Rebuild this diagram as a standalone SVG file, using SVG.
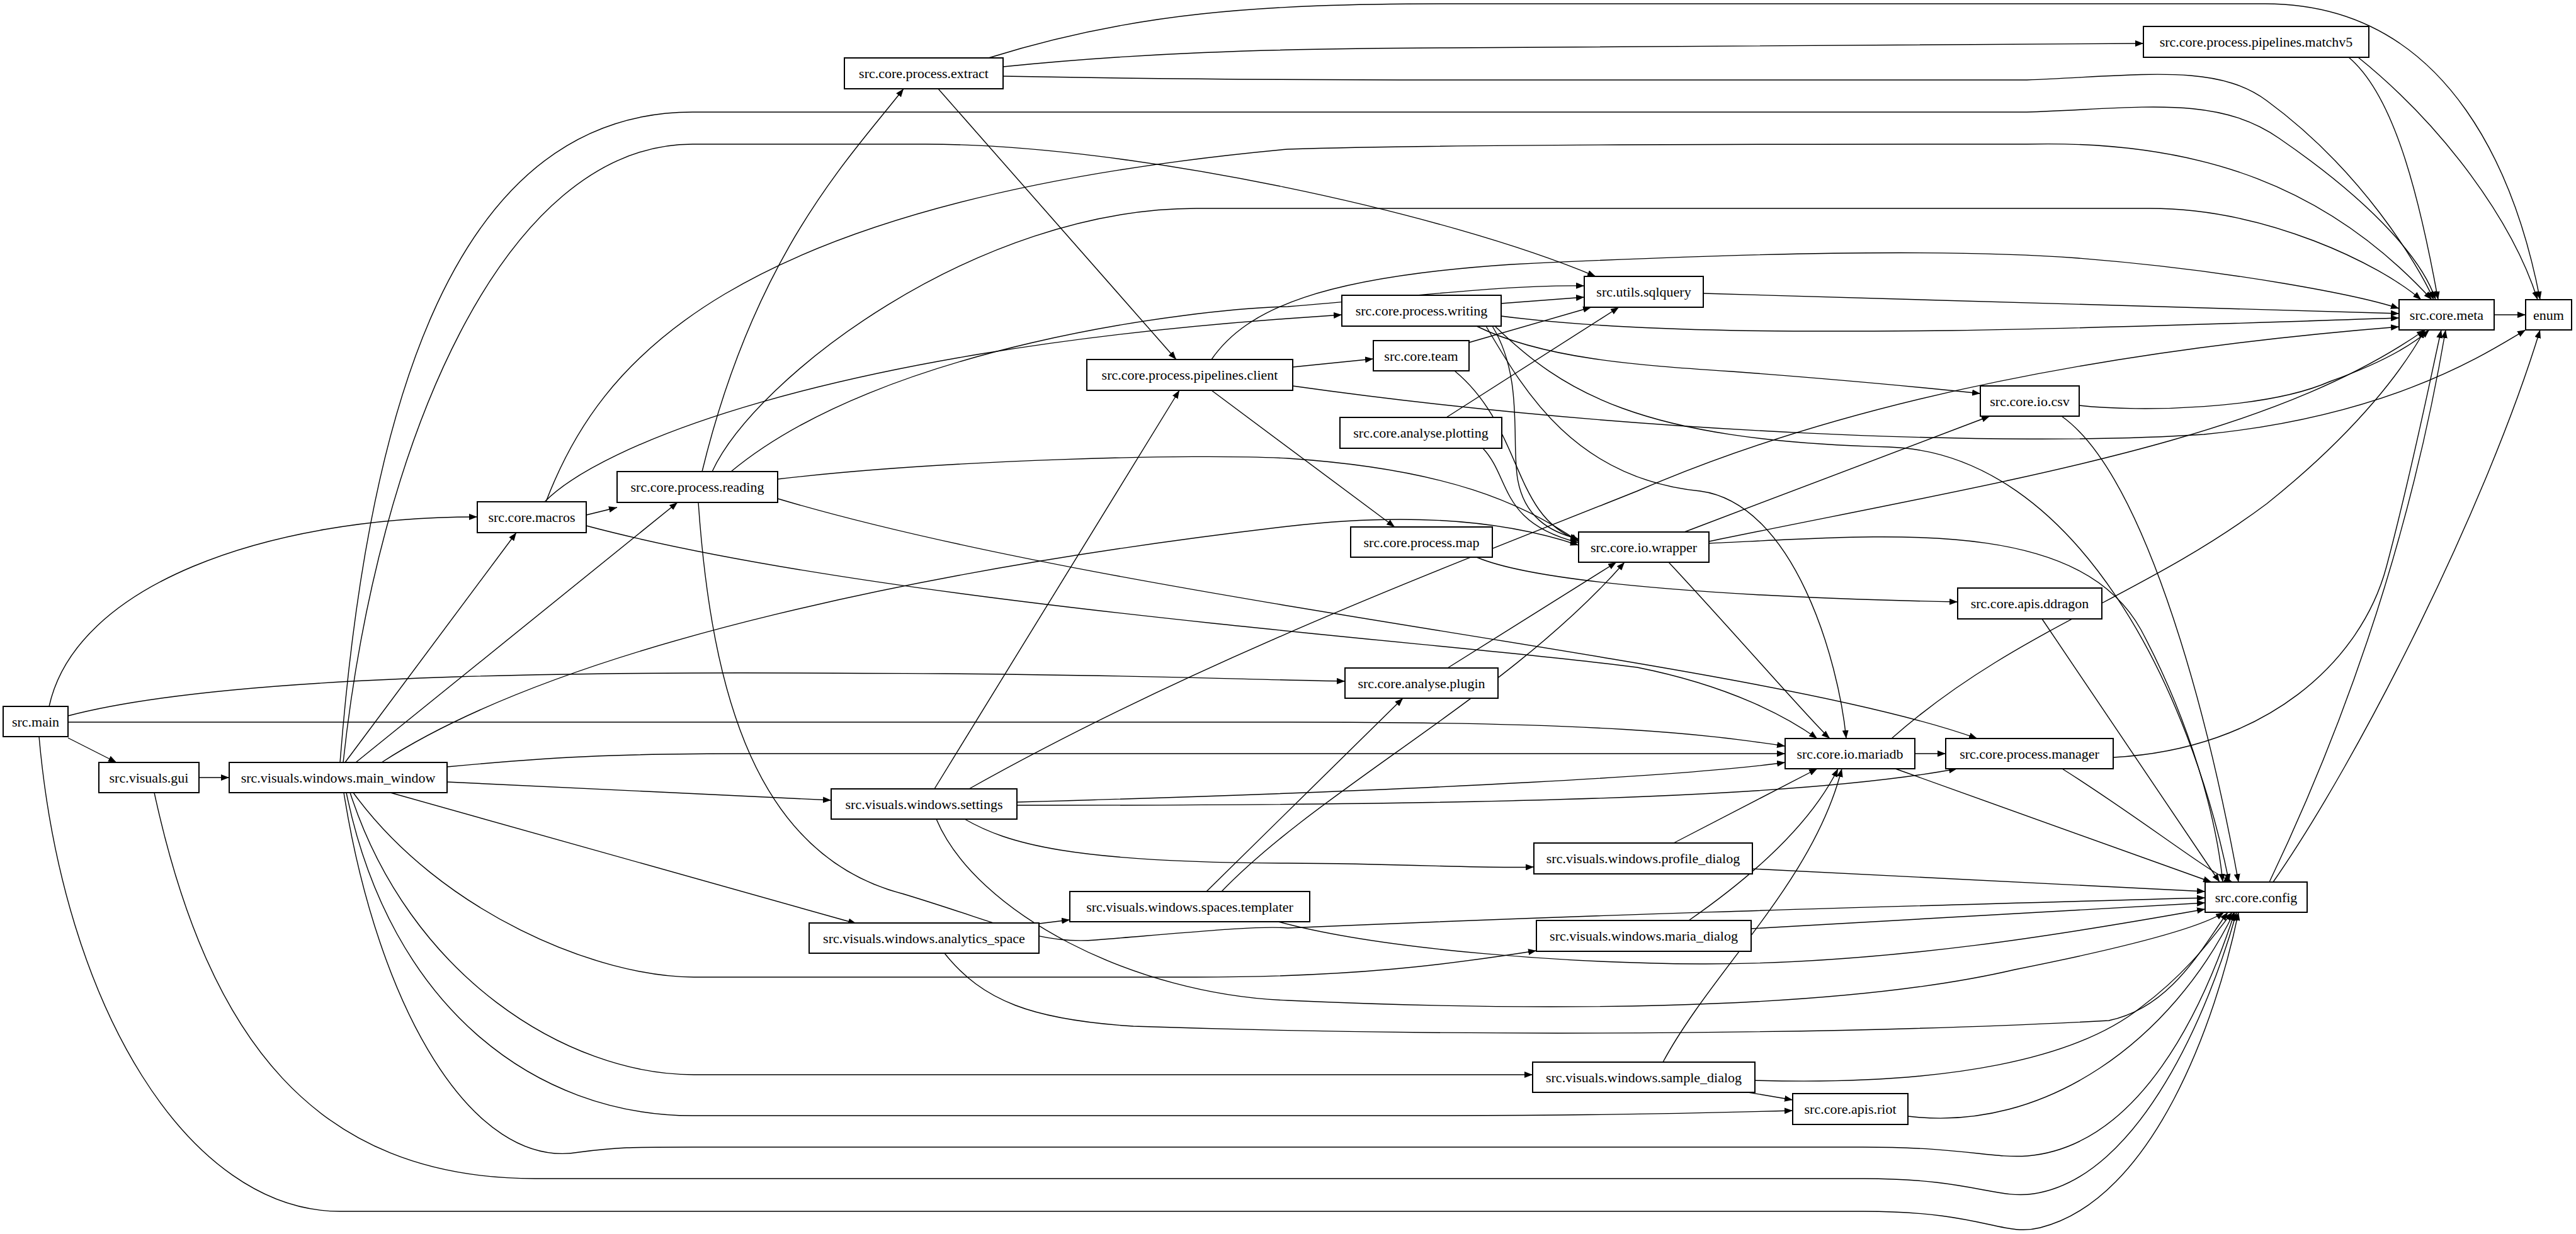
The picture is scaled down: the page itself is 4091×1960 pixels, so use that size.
<svg xmlns="http://www.w3.org/2000/svg" width="4091" height="1960" viewBox="0 0 4091 1960">
<style>
.n rect{fill:#fff;stroke:#000;stroke-width:2}
.n text{font-family:"Liberation Serif",serif;font-size:22px;text-anchor:middle;dominant-baseline:central;fill:#000}
#edges path{fill:none;stroke:#000;stroke-width:1.4;marker-end:url(#a)}
</style>
<defs><marker id="a" markerUnits="userSpaceOnUse" markerWidth="14" markerHeight="10" refX="13" refY="5" orient="auto"><path d="M0,0 L13,5 L0,10 z" fill="#000"/></marker></defs>
<rect width="4091" height="1960" fill="#fff"/>
<g id="edges">
<path d="M78,1122 C120,930 420,821 758,821"/>
<path d="M108,1137 C400,1060 1100,1068 1500,1070 C1800,1072 2000,1080 2136,1082"/>
<path d="M108,1147 L2050,1147 C2550,1147 2700,1165 2835,1185"/>
<path d="M108,1172 L185,1211"/>
<path d="M62,1170 C100,1600 300,1924 540,1924 L2960,1924 C3150,1924 3180,1965 3240,1950 C3420,1905 3520,1620 3555,1449"/>
<path d="M316,1235 L364,1235"/>
<path d="M245,1259 C330,1650 500,1872 850,1872 L2960,1872 C3130,1872 3170,1905 3230,1896 C3400,1870 3510,1600 3552,1449"/>
<path d="M548,1211 L820,846"/>
<path d="M565,1211 L1076,798"/>
<path d="M540,1211 C580,700 700,178 1100,178 L3219,178 C3400,172 3520,150 3620,220 C3780,330 3850,420 3868,476"/>
<path d="M545,1211 C600,700 800,229 1100,229 L1470,229 C1800,229 2300,340 2534,439"/>
<path d="M606,1211 C900,1020 1500,900 2045,836 C2250,812 2400,830 2507,866"/>
<path d="M710,1218 C900,1200 1000,1197 1200,1197 L2835,1197"/>
<path d="M710,1242 L1320,1271"/>
<path d="M620,1259 L1360,1467"/>
<path d="M561,1259 C700,1450 950,1552 1102,1552 L1900,1552 C2150,1552 2300,1532 2440,1510"/>
<path d="M556,1259 C650,1550 900,1707 1102,1707 L2434,1707"/>
<path d="M550,1259 C620,1600 850,1772 1100,1772 L2300,1772 C2500,1772 2700,1768 2847,1764"/>
<path d="M546,1259 C600,1600 750,1860 920,1830 C980,1822 1000,1822 1102,1822 L2958,1822 C3120,1822 3160,1840 3220,1836 C3400,1820 3500,1600 3549,1449"/>
<path d="M931,818 L980,806"/>
<path d="M865,797 C950,710 1300,560 2045,506 L2131,500"/>
<path d="M867,797 C950,580 1150,320 2045,237 C2300,229 2800,229 3219,229 C3500,222 3700,300 3862,476"/>
<path d="M931,835 C1400,960 2300,1020 2600,1060 C2750,1090 2840,1140 2886,1173"/>
<path d="M1115,749 C1200,400 1350,250 1435,141"/>
<path d="M1161,749 C1400,550 1900,490 2045,487 C2250,470 2400,452 2516,454"/>
<path d="M1131,749 C1200,600 1550,331 1900,331 L3414,331 C3600,331 3780,420 3845,476"/>
<path d="M1235,761 C1500,730 1900,720 2045,728 C2300,745 2420,800 2507,860"/>
<path d="M1235,792 C1800,960 2800,1050 3140,1173"/>
<path d="M1109,798 C1130,1100 1200,1360 1435,1420 C1600,1470 1650,1500 1740,1493 C1900,1480 2000,1470 2045,1474 C2600,1450 3000,1440 3502,1426"/>
<path d="M1570,92 C1800,20 2000,6 2300,6 L3597,6 C3900,6 4000,300 4034,476"/>
<path d="M1593,106 C1800,85 2000,77 2300,76 L3404,69"/>
<path d="M1593,121 C1800,125 2000,127 2300,127 L3219,127 C3400,120 3520,100 3600,160 C3750,270 3840,420 3865,476"/>
<path d="M1490,141 L1868,571"/>
<path d="M3730,91 C3800,150 3840,300 3872,476"/>
<path d="M3745,91 C3880,200 3990,350 4030,476"/>
<path d="M1924,571 C1980,490 2100,440 2400,420 C2800,400 3100,395 3300,410 C3550,430 3750,470 3810,490"/>
<path d="M2053,583 L2181,570"/>
<path d="M2053,613 C2600,690 3200,710 3500,690 C3800,660 3950,560 4011,524"/>
<path d="M1924,620 L2215,837"/>
<path d="M2384,482 L2516,472"/>
<path d="M2384,502 C2600,530 2900,527 3100,525 C3400,520 3650,510 3810,505"/>
<path d="M2345,518 C2450,570 2600,580 2750,590 C2950,605 3050,615 3145,625"/>
<path d="M2370,518 C2420,600 2400,700 2410,760 C2420,820 2460,845 2507,856"/>
<path d="M2360,518 C2420,620 2500,760 2700,780 C2850,800 2920,1050 2932,1173"/>
<path d="M2374,518 C2480,620 2600,700 3000,710 C3300,720 3480,1100 3540,1401"/>
<path d="M2333,544 L2527,488"/>
<path d="M2310,589 C2420,680 2400,820 2507,858"/>
<path d="M2297,663 L2571,488"/>
<path d="M2355,712 C2400,760 2380,830 2507,862"/>
<path d="M2345,885 C2450,930 2800,950 3109,956"/>
<path d="M2675,845 L3160,661"/>
<path d="M2714,860 C3200,760 3600,700 3851,524"/>
<path d="M2714,863 C3000,850 3300,820 3400,1000 C3480,1150 3520,1300 3530,1401"/>
<path d="M2650,893 C2750,1000 2880,1150 2906,1173"/>
<path d="M3302,644 C3400,655 3600,650 3700,606 C3800,570 3840,540 3858,524"/>
<path d="M3274,661 C3400,750 3500,1100 3555,1401"/>
<path d="M2705,466 L3810,498"/>
<path d="M3961,500 L4011,500"/>
<path d="M3243,983 L3525,1401"/>
<path d="M2299,1061 L2567,893"/>
<path d="M3041,1197 L3090,1197"/>
<path d="M3004,1173 C3200,1000 3400,950 3600,800 C3750,680 3820,580 3851,524"/>
<path d="M3010,1221 L3512,1401"/>
<path d="M3356,1203 C3600,1190 3750,1050 3790,900 C3830,750 3860,600 3877,524"/>
<path d="M3275,1221 C3400,1300 3500,1380 3545,1401"/>
<path d="M3604,1401 C3700,1200 3820,900 3884,524"/>
<path d="M3610,1401 C3750,1200 3950,800 4034,524"/>
<path d="M1484,1253 L1873,620"/>
<path d="M1539,1253 C1900,1050 2300,900 2600,780 C2900,650 3300,560 3810,519"/>
<path d="M1615,1274 C2300,1255 2700,1230 2835,1211"/>
<path d="M1615,1279 C2500,1280 2900,1260 3108,1221"/>
<path d="M1532,1301 C1600,1340 1700,1370 2045,1371 C2250,1372 2350,1380 2436,1377"/>
<path d="M1487,1301 C1550,1450 1800,1580 2045,1589 C2400,1605 2900,1610 3200,1540 C3400,1500 3500,1470 3532,1449"/>
<path d="M1916,1416 L2228,1109"/>
<path d="M1940,1416 C2100,1250 2400,1100 2580,893"/>
<path d="M2030,1464 C2200,1510 2500,1530 2700,1531 C3000,1532 3300,1480 3502,1444"/>
<path d="M1650,1467 L1699,1461"/>
<path d="M1500,1514 C1560,1590 1640,1620 1800,1630 C2400,1650 3000,1640 3349,1621 C3450,1600 3500,1500 3538,1449"/>
<path d="M2658,1339 L2886,1221"/>
<path d="M2783,1380 L3502,1416"/>
<path d="M2682,1462 C2800,1380 2880,1300 2919,1221"/>
<path d="M2781,1475 L3502,1434"/>
<path d="M2641,1687 C2720,1540 2880,1400 2925,1221"/>
<path d="M2787,1716 C3100,1725 3300,1680 3400,1600 C3480,1540 3520,1480 3545,1449"/>
<path d="M2770,1734 L2847,1747"/>
<path d="M3030,1773 C3250,1800 3450,1650 3548,1449"/>
</g>
<g id="main" class="n"><rect x="5" y="1122" width="103" height="48"/><text x="56.5" y="1146">src.main</text></g>
<g id="gui" class="n"><rect x="157" y="1211" width="159" height="48"/><text x="236.5" y="1235">src.visuals.gui</text></g>
<g id="main_window" class="n"><rect x="364" y="1211" width="346" height="48"/><text x="537" y="1235">src.visuals.windows.main_window</text></g>
<g id="macros" class="n"><rect x="758" y="797" width="173" height="49"/><text x="844.5" y="821.5">src.core.macros</text></g>
<g id="reading" class="n"><rect x="980" y="749" width="255" height="49"/><text x="1107.5" y="773.5">src.core.process.reading</text></g>
<g id="extract" class="n"><rect x="1341" y="92" width="252" height="49"/><text x="1467" y="116.5">src.core.process.extract</text></g>
<g id="client" class="n"><rect x="1726" y="571" width="327" height="49"/><text x="1889.5" y="595.5">src.core.process.pipelines.client</text></g>
<g id="settings" class="n"><rect x="1320" y="1253" width="295" height="48"/><text x="1467.5" y="1277">src.visuals.windows.settings</text></g>
<g id="analytics_space" class="n"><rect x="1285" y="1466" width="365" height="48"/><text x="1467.5" y="1490">src.visuals.windows.analytics_space</text></g>
<g id="templater" class="n"><rect x="1699" y="1416" width="381" height="48"/><text x="1889.5" y="1440">src.visuals.windows.spaces.templater</text></g>
<g id="writing" class="n"><rect x="2131" y="469" width="253" height="49"/><text x="2257.5" y="493.5">src.core.process.writing</text></g>
<g id="team" class="n"><rect x="2181" y="541" width="152" height="48"/><text x="2257" y="565">src.core.team</text></g>
<g id="plotting" class="n"><rect x="2128" y="663" width="257" height="49"/><text x="2256.5" y="687.5">src.core.analyse.plotting</text></g>
<g id="map" class="n"><rect x="2145" y="837" width="225" height="48"/><text x="2257.5" y="861">src.core.process.map</text></g>
<g id="plugin" class="n"><rect x="2136" y="1061" width="243" height="48"/><text x="2257.5" y="1085">src.core.analyse.plugin</text></g>
<g id="sqlquery" class="n"><rect x="2516" y="439" width="189" height="49"/><text x="2610.5" y="463.5">src.utils.sqlquery</text></g>
<g id="wrapper" class="n"><rect x="2507" y="845" width="207" height="48"/><text x="2610.5" y="869">src.core.io.wrapper</text></g>
<g id="profile_dialog" class="n"><rect x="2436" y="1339" width="347" height="49"/><text x="2609.5" y="1363.5">src.visuals.windows.profile_dialog</text></g>
<g id="maria_dialog" class="n"><rect x="2440" y="1462" width="341" height="49"/><text x="2610.5" y="1486.5">src.visuals.windows.maria_dialog</text></g>
<g id="sample_dialog" class="n"><rect x="2434" y="1687" width="353" height="48"/><text x="2610.5" y="1711">src.visuals.windows.sample_dialog</text></g>
<g id="mariadb" class="n"><rect x="2835" y="1173" width="206" height="48"/><text x="2938" y="1197">src.core.io.mariadb</text></g>
<g id="riot" class="n"><rect x="2847" y="1737" width="183" height="49"/><text x="2938.5" y="1761.5">src.core.apis.riot</text></g>
<g id="csv" class="n"><rect x="3145" y="613" width="157" height="48"/><text x="3223.5" y="637">src.core.io.csv</text></g>
<g id="ddragon" class="n"><rect x="3109" y="934" width="229" height="49"/><text x="3223.5" y="958.5">src.core.apis.ddragon</text></g>
<g id="manager" class="n"><rect x="3090" y="1173" width="266" height="48"/><text x="3223" y="1197">src.core.process.manager</text></g>
<g id="matchv5" class="n"><rect x="3404" y="42" width="358" height="49"/><text x="3583" y="66.5">src.core.process.pipelines.matchv5</text></g>
<g id="config" class="n"><rect x="3502" y="1401" width="162" height="48"/><text x="3583" y="1425">src.core.config</text></g>
<g id="meta" class="n"><rect x="3810" y="476" width="151" height="48"/><text x="3885.5" y="500">src.core.meta</text></g>
<g id="enum" class="n"><rect x="4011" y="476" width="73" height="48"/><text x="4047.5" y="500">enum</text></g>
</svg>
